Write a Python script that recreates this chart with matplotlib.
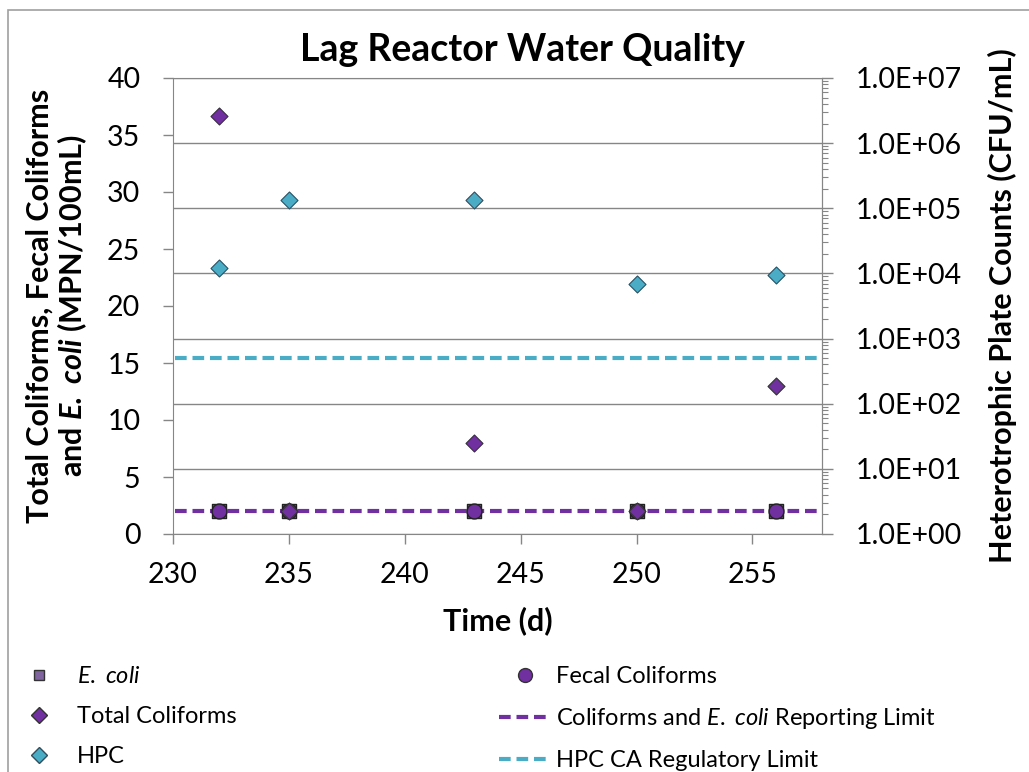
import math
import matplotlib
matplotlib.use("Agg")
import matplotlib.pyplot as plt
from matplotlib.lines import Line2D
from matplotlib.patches import Rectangle
from matplotlib.ticker import FixedLocator, LogLocator, NullFormatter, FuncFormatter

plt.rcParams['font.family'] = ['Lato', 'DejaVu Sans']
plt.rcParams['mathtext.fontset'] = 'custom'
plt.rcParams['mathtext.rm'] = 'Lato'
plt.rcParams['mathtext.it'] = 'Lato:italic'
plt.rcParams['mathtext.bf'] = 'Lato:bold'
try:
    plt.rcParams['mathtext.bfit'] = 'Lato:italic:bold'
except KeyError:
    pass

# ---- data ----
days = [232, 235, 243, 250, 256]
ecoli = [2, 2, 2, 2, 2]
fecal = [2, 2, 2, 2, 2]
total_coliforms = [36.7, 2, 8, 2, 13]
hpc = [1.2e4, 1.35e5, 1.35e5, 6.9e3, 9.5e3]
coliform_limit = 2
hpc_limit = 500
x_ticks = [230, 235, 240, 245, 250, 255]
left_ticks = [0, 5, 10, 15, 20, 25, 30, 35, 40]
right_ticks = [1e0, 1e1, 1e2, 1e3, 1e4, 1e5, 1e6, 1e7]

PURPLE = '#7030A0'
CYAN = '#4BACC6'
ECOLI = '#7F649F'
GRAY = '#868686'
DASH = (0, (2.8, 1.4))

fig = plt.figure(figsize=(10.29, 7.72), dpi=100)
W, H = 1029, 772
ax = fig.add_axes([173 / W, 1 - 534 / H, (822 - 173) / W, (534 - 78) / H])
ax2 = ax.twinx()

# left axis
ax.set_xlim(230, 258)
ax.set_ylim(0, 40)
ax.xaxis.set_major_locator(FixedLocator(x_ticks))
ax.yaxis.set_major_locator(FixedLocator(left_ticks))
ax.tick_params(axis='both', direction='out', length=7.5, width=1, color=GRAY,
               labelsize=20.5)
ax.tick_params(axis='y', pad=16)
ax.tick_params(axis='x', pad=13)
for s in ax.spines.values():
    s.set_color(GRAY)
ax2.spines[:].set_visible(False)
ax2.spines['right'].set_visible(True)
ax2.spines['right'].set_color(GRAY)

ax.axhline(coliform_limit, color=PURPLE, lw=3.0, ls=DASH, zorder=2, xmin=0.003)
ax.scatter(days, ecoli, marker='s', s=90, color=ECOLI, edgecolor='#222222', lw=1, zorder=3)
ax.scatter(days, fecal, marker='o', s=115, color=PURPLE, edgecolor='#222222', lw=1, zorder=4)
ax.scatter(days, total_coliforms, marker='D', s=75, color=PURPLE, edgecolor='#333333', lw=0.8, zorder=5)

# right axis (log)
ax2.set_yscale('log')
ax2.set_ylim(1, 1e7)
ax2.yaxis.set_major_locator(FixedLocator(right_ticks))
ax2.yaxis.set_minor_locator(LogLocator(base=10, subs=range(2, 10), numticks=20))
ax2.yaxis.set_minor_formatter(NullFormatter())
ax2.yaxis.set_major_formatter(FuncFormatter(lambda v, p: '1.0E+%02d' % round(math.log10(v))))
ax2.tick_params(axis='y', which='major', direction='out', length=8, width=1, color=GRAY,
                labelsize=20.5, pad=16)
ax2.tick_params(axis='y', which='minor', direction='out', length=4.5, width=0.8, color=GRAY)
ax2.grid(True, which='major', axis='y', color=GRAY, lw=1)
ax2.axhline(hpc_limit, color=CYAN, lw=3.0, ls=DASH, zorder=2, xmin=0.003)
ax2.scatter(days, hpc, marker='D', s=75, color=CYAN, edgecolor='#2F4F5F', lw=0.8, zorder=5)

ax.set_xlabel('Time (d)', fontsize=22, fontweight='bold', labelpad=13)
ax.set_ylabel('Total Coliforms, Fecal Coliforms\nand $\\mathbfit{E.}$ $\\mathbfit{coli}$ (MPN/100mL)',
              fontsize=22, fontweight='bold', labelpad=13, linespacing=1.05)
ax2.set_ylabel('Heterotrophic Plate Counts (CFU/mL)', fontsize=22, fontweight='bold',
               labelpad=19)

fig.text(522 / W, 1 - 50 / H, 'Lag Reactor Water Quality', ha='center', va='center',
         fontsize=27, fontweight='bold')

# figure border
fig.patches.append(Rectangle((8 / W, -0.1), 1.2, 1 - 10 / H + 0.1, transform=fig.transFigure,
                             fill=False, edgecolor='#A0A0A0', lw=1.2))

# legends
h_ecoli = Line2D([], [], marker='s', ls='none', color=ECOLI, markeredgecolor='#333333', markersize=7)
h_total = Line2D([], [], marker='D', ls='none', color=PURPLE, markeredgecolor='#333333', markersize=8)
h_hpc = Line2D([], [], marker='D', ls='none', color=CYAN, markeredgecolor='#2F4F5F', markersize=8)
h_fecal = Line2D([], [], marker='o', ls='none', color=PURPLE, markeredgecolor='#333333', markersize=10)
h_clim = Line2D([], [], color=PURPLE, lw=3.0, ls=DASH)
h_hlim = Line2D([], [], color=CYAN, lw=3.0, ls=DASH)

leg_fs = 17
leg1 = fig.legend([h_ecoli, h_total, h_hpc],
                  ['$\\mathit{E.}$ $\\mathit{coli}$', 'Total Coliforms', 'HPC'],
                  loc='upper left', bbox_to_anchor=(20 / W, 1 - 666 / H), frameon=False,
                  fontsize=leg_fs, handlelength=1.6, handletextpad=0.8, labelspacing=0.8,
                  borderaxespad=0, borderpad=0)
leg2 = fig.legend([h_fecal, h_clim, h_hlim],
                  ['Fecal Coliforms', 'Coliforms and $\\mathit{E.}$ $\\mathit{coli}$ Reporting Limit',
                   'HPC CA Regulatory Limit'],
                  loc='upper left', bbox_to_anchor=(499 / W, 1 - 666 / H), frameon=False,
                  fontsize=leg_fs, handlelength=2.2, handletextpad=0.2, labelspacing=0.8,
                  borderaxespad=0, borderpad=0)

fig.savefig('out.png', dpi=100)
